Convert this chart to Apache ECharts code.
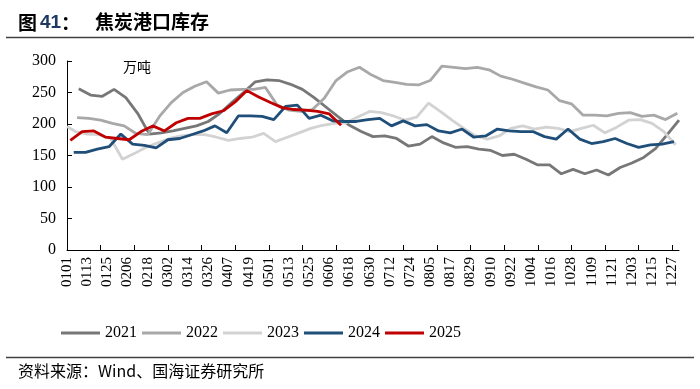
<!DOCTYPE html>
<html>
<head>
<meta charset="utf-8">
<script src="https://cdn.jsdelivr.net/npm/echarts@6/dist/echarts.min.js"></script>
<style>html,body{margin:0;padding:0;background:#fff;}#c{width:700px;height:389px;}</style>
</head>
<body>
<div id="c"></div>
<script>
// ---- data ----
const years = ['2021', '2022', '2023', '2024', '2025'];
const tickLabels = ['0101','0113','0125','0206','0218','0302','0314','0326','0407','0419','0501','0513','0525','0606','0618','0630','0712','0724','0805','0817','0829','0910','0922','1004','1016','1028','1109','1121','1203','1215','1227'];
// weekly series: first observation date (MMDD) + weekly values (万吨)
const start2021 = '0108';
const values2021 = [256,246,244,255,242,217,184,186,189,193,197,204,217,234,250,267,270,269,263,255,242,227,212,198,188,180,181,177,165,168,180,170,163,164,160,158,150,152,144,135,135,121,128,121,127,119,131,138,147,161,183,206];
const start2022 = '0107';
const values2022 = [210,209,206,201,197,185,183,212,234,250,260,267,249,254,255,255,258,230,222,220,223,241,269,283,290,278,269,266,263,262,269,292,290,288,290,286,276,271,265,259,254,237,232,214,214,213,217,218,212,214,207,217];
const lead2023 = ['0101', 196];
const start2023 = '0106';
const values2023 = [188,184,183,177,144,153,163,170,177,181,183,183,179,174,177,179,185,172,179,186,193,198,201,202,211,220,218,213,206,211,233,220,206,193,181,176,181,193,197,192,195,193,188,193,198,186,195,206,207,201,188,167];
const start2024 = '0105';
const values2024 = [155,155,160,164,184,168,166,162,175,177,183,189,197,186,213,213,212,207,228,230,209,214,205,204,204,207,209,197,205,197,199,189,186,192,179,181,192,189,188,188,180,176,192,176,169,172,177,169,163,167,168,172];
const start2025 = '0103';
const values2025 = [174,188,189,179,177,175,188,197,189,202,209,209,216,221,235,253,243,234,226,223,222,220,216,198];

// daily category axis (MMDD)
const monthDays = [31,28,31,30,31,30,31,31,30,31,30,31];
const days = [];
monthDays.forEach((n, m) => { for (let d = 1; d <= n; d++) days.push(String(m + 1).padStart(2, '0') + String(d).padStart(2, '0')); });

function weekly(start, values) {
  const i0 = days.indexOf(start);
  return values.map((v, k) => [days[i0 + 7 * k], v]);
}
const seriesData = {
  '2021': weekly(start2021, values2021),
  '2022': weekly(start2022, values2022),
  '2023': [lead2023].concat(weekly(start2023, values2023)),
  '2024': weekly(start2024, values2024),
  '2025': weekly(start2025, values2025)
};
const colors = {'2021': '#777777', '2022': '#a8a8a8', '2023': '#d2d2d2', '2024': '#1f4e79', '2025': '#c00000'};

const serif = '"Liberation Serif", "Times New Roman", serif';
const cjk = '"Noto Sans CJK SC", sans-serif';

const chart = echarts.init(document.getElementById('c'), null, {renderer: 'canvas'});
chart.setOption({
  animation: false,
  backgroundColor: '#fff',
  grid: {left: 67, right: 21, top: 61, bottom: 139, containLabel: false},
  legend: {
    data: years,
    left: 56,
    top: 320,
    itemWidth: 39,
    itemHeight: 3,
    itemGap: 5,
    icon: 'rect',
    textStyle: {fontFamily: serif, fontSize: 16, color: '#000'}
  },
  xAxis: {
    type: 'category',
    data: days,
    boundaryGap: false,
    axisLine: {lineStyle: {color: '#000', width: 1}},
    axisTick: {inside: true, length: 5, interval: (i) => i % 20 === 0, lineStyle: {color: '#000'}},
    axisLabel: {
      interval: (i, v) => tickLabels.includes(v),
      rotate: 90,
      margin: 7,
      fontFamily: serif,
      fontSize: 15,
      color: '#000'
    },
    splitLine: {show: false}
  },
  yAxis: {
    type: 'value',
    min: 0,
    max: 300,
    interval: 50,
    axisLine: {show: true, lineStyle: {color: '#000', width: 1}},
    axisTick: {show: true, inside: true, length: 5, lineStyle: {color: '#000'}},
    axisLabel: {fontFamily: serif, fontSize: 16, color: '#000', margin: 11},
    splitLine: {show: false}
  },
  series: years.map(y => ({
    name: y,
    type: 'line',
    data: seriesData[y],
    showSymbol: false,
    symbol: 'none',
    color: colors[y],
    lineStyle: {width: 2.8, color: colors[y]},
    z: y === '2025' ? 5 : (y === '2024' ? 4 : 2)
  })),
  graphic: [
    {type: 'text', left: 18, top: 13, style: {text: '图', font: 'bold 19px ' + cjk, fill: '#000'}},
    {type: 'text', left: 40, top: 13, style: {text: '41', font: 'bold 19px "Liberation Sans", Arial, sans-serif', fill: '#1f3864'}},
    {type: 'text', left: 61, top: 13, style: {text: '：', font: 'bold 19px ' + cjk, fill: '#000'}},
    {type: 'text', left: 95, top: 12, style: {text: '焦炭港口库存', font: 'bold 19px ' + cjk, fill: '#000'}},
    {type: 'line', shape: {x1: 6, y1: 37.5, x2: 694, y2: 37.5}, style: {stroke: '#404040', lineWidth: 1.5}},
    {type: 'text', left: 123, top: 60, style: {text: '万吨', font: '14px ' + cjk, fill: '#000'}},
    {type: 'line', shape: {x1: 6, y1: 357.5, x2: 694, y2: 357.5}, style: {stroke: '#404040', lineWidth: 1.5}},
    {type: 'text', left: 18, top: 363, style: {text: '资料来源：Wind、国海证券研究所', font: '16px ' + cjk, fill: '#000'}}
  ]
});
</script>
</body>
</html>
